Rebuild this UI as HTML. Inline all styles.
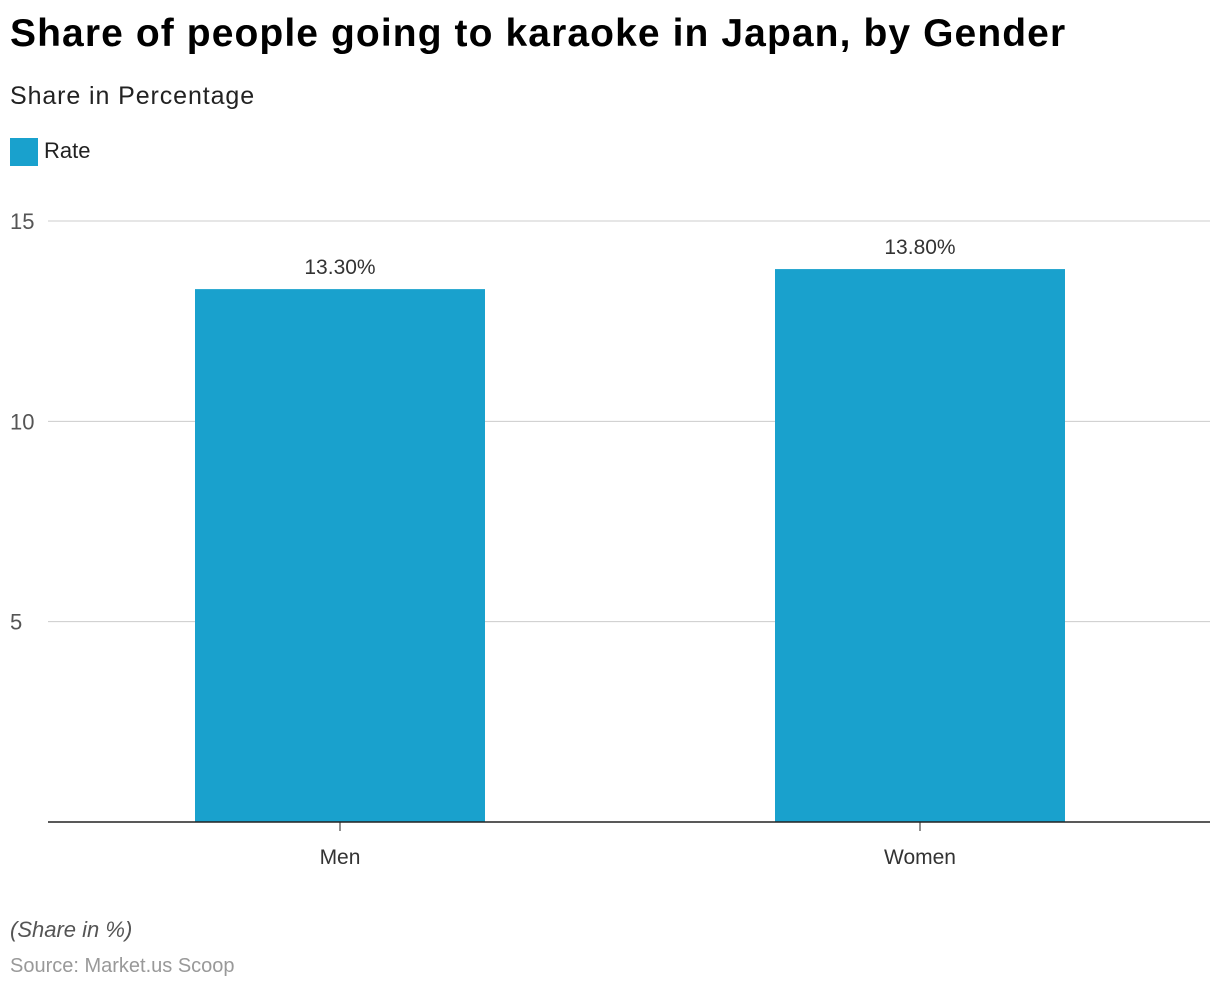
<!DOCTYPE html>
<html><head><meta charset="utf-8"><style>
body{margin:0;background:#fff;font-family:"Liberation Sans",Arial,sans-serif;}
#wrap{position:relative;width:1220px;height:992px;overflow:hidden;}
.t{position:absolute;white-space:nowrap;}
</style></head><body>
<div id="wrap">
<div class="t" style="left:10px;top:12px;font-size:39px;font-weight:bold;color:#000;letter-spacing:1.1px;">Share of people going to karaoke in Japan, by Gender</div>
<div class="t" style="left:10px;top:82px;font-size:25px;color:#222;letter-spacing:0.9px;">Share in Percentage</div>
<div style="position:absolute;left:10px;top:138px;width:28px;height:28px;background:#19a1cd;"></div>
<div class="t" style="left:44px;top:138px;font-size:22px;color:#222;">Rate</div>
<svg id="chart" width="1220" height="992" style="position:absolute;left:0;top:0"></svg>
<div class="t" style="left:10px;top:917px;font-size:22px;font-style:italic;color:#555;">(Share in %)</div>
<div class="t" style="left:10px;top:955px;font-size:20px;color:#999;">Source: Market.us Scoop</div>
</div>
<script>
const categories = ["Men", "Women"];
const values = [13.3, 13.8];
const valueLabels = ["13.30%", "13.80%"];
const yTicks = [5, 10, 15];

const NS = "http://www.w3.org/2000/svg";
const svg = document.getElementById("chart");
const plotL = 50, plotR = 1210, y0 = 822, yTop = 221, yMax = 15;
const yScale = v => y0 - (v / yMax) * (y0 - yTop);
const band = (plotR - plotL) / categories.length;
const xCenter = i => plotL + band * (i + 0.5);
const barW = band * 0.5;
function mk(tag, attrs){const e=document.createElementNS(NS,tag);for(const k in attrs)e.setAttribute(k,attrs[k]);svg.appendChild(e);return e;}

yTicks.forEach(t=>{
  const y=yScale(t);
  const g=mk("line",{x1:48,x2:plotR,y1:y,y2:y,stroke:"#ccc","stroke-width":1});
  
  
  const tx=mk("text",{x:10,y:y+8,"font-size":22,fill:"#555","font-family":"Liberation Sans, sans-serif"});
  tx.textContent=t;
  
  
});

categories.forEach((c,i)=>{
  const cx=xCenter(i), y=yScale(values[i]);
  const r=mk("rect",{x:cx-barW/2,y:y,width:barW,height:y0-y,fill:"#19a1cd"});
  
  
  const vl=mk("text",{x:cx,y:y-15,"font-size":21,fill:"#333","text-anchor":"middle","font-family":"Liberation Sans, sans-serif"});
  vl.textContent=valueLabels[i];
  
  
  const tk=mk("line",{x1:cx,x2:cx,y1:y0,y2:y0+9,stroke:"#222","stroke-width":1});
  
  
  const xl=mk("text",{x:cx,y:y0+42,"font-size":21,fill:"#333","text-anchor":"middle","font-family":"Liberation Sans, sans-serif"});
  xl.textContent=c;
  
  
});
const ax=mk("line",{x1:48,x2:plotR,y1:y0,y2:y0,stroke:"#222","stroke-width":1.5});


</script>
</body></html>
